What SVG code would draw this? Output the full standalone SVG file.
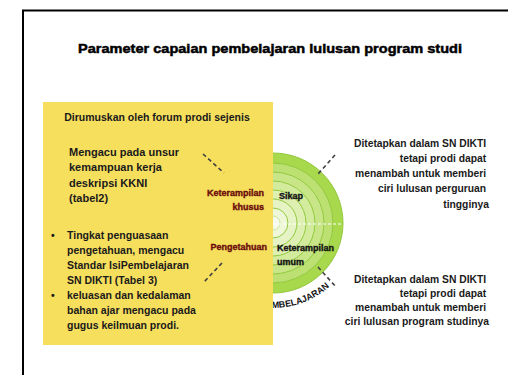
<svg xmlns="http://www.w3.org/2000/svg" width="508" height="375" viewBox="0 0 508 375">
<style>
.t{font-family:"Liberation Sans",Arial,sans-serif;font-weight:bold;fill:#1a1a1a}
.box{font-size:10.5px}
.rt{font-size:10.3px;text-anchor:end}
.red{font-family:"Liberation Sans",Arial,sans-serif;font-weight:bold;font-size:9px;fill:#7a0c0c;stroke:#5a0808;stroke-width:0.35}
.blk{font-family:"Liberation Sans",Arial,sans-serif;font-weight:bold;font-size:9px;fill:#111;stroke:#111;stroke-width:0.35}
.ring{stroke:#93c940;stroke-width:1}
.dash{stroke:#404040;stroke-width:1.6;stroke-dasharray:4 3;fill:none}
</style>
<defs>
<path id="arc" d="M188,223 A85,85 0 0 0 358,223"/>
</defs>
<rect width="508" height="375" fill="#fff"/>
<path d="M23,376 V10.5 H510" fill="none" stroke="#000" stroke-width="2"/>
<text x="78" y="53" textLength="384" lengthAdjust="spacingAndGlyphs" style="font-family:'Liberation Sans',Arial,sans-serif;font-weight:bold;font-size:13.5px;fill:#000;stroke:#000;stroke-width:0.5">Parameter capaian pembelajaran lulusan program studi</text>

<g id="circle">
<circle cx="273" cy="223" r="70" fill="#a8d84c" class="ring"/>
<circle cx="273" cy="223" r="60" fill="#bce071" class="ring"/>
<circle cx="273" cy="223" r="51" fill="#c8e688" class="ring"/>
<circle cx="273" cy="223" r="42" fill="#d3eb9d" class="ring"/>
<circle cx="273" cy="223" r="33" fill="#ddf0b2" class="ring"/>
<circle cx="273" cy="223" r="24" fill="#e6f4c5" class="ring"/>
<circle cx="273" cy="223" r="15" fill="#eef8d8" class="ring"/>
<circle cx="273" cy="223" r="7" fill="#f7fbec" stroke="#c9e59a" stroke-width="1"/>
<line x1="273" y1="224" x2="343" y2="224" stroke="#fff" stroke-width="1.2" stroke-dasharray="3 2"/>
<text style="font-family:'Liberation Sans',Arial,sans-serif;font-weight:bold;font-size:9px;fill:#111"><textPath href="#arc" startOffset="120">PEMBELAJARAN</textPath></text>
</g>

<g id="yellowbox">
<rect x="43" y="102" width="230" height="243" fill="#f7df5e"/>
<text class="t box" x="157" y="121" text-anchor="middle">Dirumuskan oleh forum prodi sejenis</text>
<text class="t" style="font-size:11px" x="69">
<tspan x="69" y="156">Mengacu pada unsur</tspan>
<tspan x="69" y="171">kemampuan kerja</tspan>
<tspan x="69" y="187">deskripsi KKNI</tspan>
<tspan x="69" y="202">(tabel2)</tspan>
</text>
<text class="t box">
<tspan x="51" y="239">•</tspan>
<tspan x="67" y="239">Tingkat penguasaan</tspan>
<tspan x="67" y="254">pengetahuan, mengacu</tspan>
<tspan x="67" y="269">Standar IsiPembelajaran</tspan>
<tspan x="67" y="284">SN DIKTI (Tabel 3)</tspan>
<tspan x="51" y="299">•</tspan>
<tspan x="67" y="299">keluasan dan kedalaman</tspan>
<tspan x="67" y="314">bahan ajar mengacu pada</tspan>
<tspan x="67" y="329">gugus keilmuan prodi.</tspan>
</text>
</g>

<g id="kterampilan-khusus">
<text class="red" x="264" y="196" text-anchor="end">Keterampilan</text>
<text class="red" x="264" y="210" text-anchor="end">khusus</text>
</g>
<g id="pengetahuan">
<text class="red" x="267" y="250" text-anchor="end">Pengetahuan</text>
</g>
<g id="sikap">
<text class="blk" x="279" y="199">Sikap</text>
</g>
<g id="keterampilan-umum">
<text class="blk" x="277" y="251">Keterampilan</text>
<text class="blk" x="277" y="265">umum</text>
</g>

<g id="note-top">
<text class="t rt">
<tspan x="489" y="147">Ditetapkan dalam SN DIKTI</tspan>
<tspan x="489" y="162">tetapi prodi dapat</tspan>
<tspan x="489" y="177">menambah untuk memberi</tspan>
<tspan x="489" y="192">ciri lulusan perguruan</tspan>
<tspan x="489" y="208">tingginya</tspan>
</text>
</g>
<g id="note-bottom">
<text class="t rt">
<tspan x="489" y="283">Ditetapkan dalam SN DIKTI</tspan>
<tspan x="489" y="297">tetapi prodi dapat</tspan>
<tspan x="489" y="311">menambah untuk memberi</tspan>
<tspan x="489" y="325">ciri lulusan program studinya</tspan>
</text>
</g>

<g id="connectors">
<line class="dash" x1="203" y1="154" x2="224" y2="173"/>
<line class="dash" x1="222" y1="263" x2="204" y2="282"/>
<line class="dash" x1="335" y1="155" x2="318" y2="174"/>
<line class="dash" x1="318" y1="267" x2="336" y2="287"/>
</g>
</svg>
